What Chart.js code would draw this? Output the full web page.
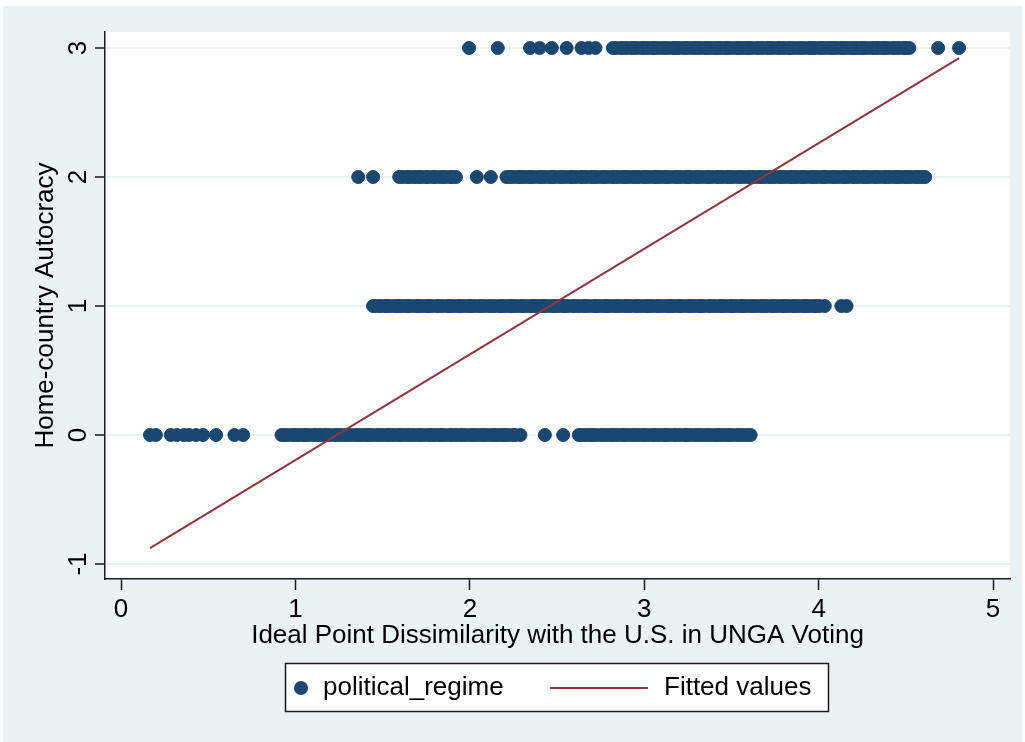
<!DOCTYPE html>
<html>
<head>
<meta charset="utf-8">
<script src="https://cdn.jsdelivr.net/npm/chart.js@4.4.1/dist/chart.umd.min.js"></script>
<style>
  html, body { margin: 0; padding: 0; background: #ffffff; }
  #wrap { position: relative; width: 1025px; height: 742px; }
</style>
</head>
<body>
<div id="wrap"><canvas id="c" width="1025" height="742"></canvas></div>
<script>
// Autocracy levels on the y axis
const regimeLevels = [0, 1, 2, 3];

// Ideal point dissimilarity values observed at each autocracy level
const regime0X = [0.166, 0.20, 0.285, 0.32, 0.36, 0.39, 0.43, 0.47, 0.545, 0.65, 0.70,
  0.92, 0.94, 0.96, 0.985, 1.0, 1.02, 1.045, 1.06, 1.08, 1.105, 1.12, 1.14, 1.165, 1.18, 1.20,
  1.225, 1.24, 1.26, 1.285, 1.30, 1.32, 1.345, 1.36, 1.38, 1.405, 1.42, 1.44, 1.465, 1.48, 1.50,
  1.525, 1.54, 1.56, 1.585, 1.60, 1.62, 1.645, 1.66, 1.68, 1.705, 1.72, 1.74, 1.765, 1.78, 1.80,
  1.825, 1.84, 1.86, 1.885, 1.90, 1.92, 1.945, 1.96, 1.98, 2.005, 2.02, 2.04, 2.065, 2.08, 2.10,
  2.125, 2.14, 2.16, 2.185, 2.20, 2.22, 2.245, 2.26, 2.29,
  2.43, 2.535,
  2.625, 2.645, 2.665, 2.69, 2.705, 2.725, 2.75, 2.765, 2.785, 2.81, 2.825, 2.845, 2.87, 2.885,
  2.905, 2.93, 2.945, 2.965, 2.99, 3.005, 3.025, 3.05, 3.065, 3.085, 3.11, 3.125, 3.145, 3.17,
  3.185, 3.205, 3.23, 3.245, 3.265, 3.29, 3.305, 3.325, 3.35, 3.365, 3.385, 3.41, 3.425, 3.445,
  3.47, 3.485, 3.505, 3.53, 3.545, 3.565, 3.59, 3.61];
const regime1X = [1.445, 1.465, 1.485, 1.51, 1.525, 1.545, 1.57, 1.585, 1.605, 1.63, 1.645,
  1.665, 1.69, 1.705, 1.725, 1.75, 1.765, 1.785, 1.81, 1.825, 1.845, 1.87, 1.885, 1.905, 1.93,
  1.945, 1.965, 1.99, 2.005, 2.025, 2.05, 2.065, 2.085, 2.11, 2.125, 2.145, 2.17, 2.185, 2.205,
  2.23, 2.245, 2.265, 2.29, 2.305, 2.325, 2.35, 2.365, 2.385, 2.41, 2.425, 2.445, 2.47, 2.485,
  2.505, 2.53, 2.545, 2.565, 2.59, 2.605, 2.625, 2.65, 2.665, 2.685, 2.71, 2.725, 2.745, 2.77,
  2.785, 2.805, 2.83, 2.845, 2.865, 2.89, 2.905, 2.925, 2.95, 2.965, 2.985, 3.01, 3.025, 3.045,
  3.07, 3.085, 3.105, 3.13, 3.145, 3.165, 3.19, 3.205, 3.225, 3.25, 3.265, 3.285, 3.31, 3.325,
  3.345, 3.37, 3.385, 3.405, 3.43, 3.445, 3.465, 3.49, 3.505, 3.525, 3.55, 3.565, 3.585, 3.61,
  3.625, 3.645, 3.67, 3.685, 3.705, 3.73, 3.745, 3.765, 3.79, 3.805, 3.825, 3.85, 3.865, 3.885,
  3.91, 3.925, 3.945, 3.97, 3.985, 4.005, 4.035, 4.13, 4.16];
const regime2X = [1.36, 1.445,
  1.595, 1.615, 1.64, 1.655, 1.68, 1.70, 1.72, 1.745, 1.76, 1.785, 1.80, 1.825, 1.845, 1.86,
  1.885, 1.90, 1.92, 2.04, 2.12,
  2.21, 2.23, 2.25, 2.275, 2.29, 2.31, 2.335, 2.35, 2.37, 2.395, 2.41, 2.43, 2.455, 2.47, 2.49,
  2.515, 2.53, 2.55, 2.575, 2.59, 2.61, 2.635, 2.65, 2.67, 2.695, 2.71, 2.73, 2.755, 2.77, 2.79,
  2.815, 2.83, 2.85, 2.875, 2.89, 2.91, 2.935, 2.95, 2.97, 2.995, 3.01, 3.03, 3.055, 3.07, 3.09,
  3.115, 3.13, 3.15, 3.175, 3.19, 3.21, 3.235, 3.25, 3.27, 3.295, 3.31, 3.33, 3.355, 3.37, 3.39,
  3.415, 3.43, 3.45, 3.475, 3.49, 3.51, 3.535, 3.55, 3.57, 3.595, 3.61, 3.63, 3.655, 3.67, 3.69,
  3.715, 3.73, 3.75, 3.775, 3.79, 3.81, 3.835, 3.85, 3.87, 3.895, 3.91, 3.93, 3.955, 3.97, 3.99,
  4.015, 4.03, 4.05, 4.075, 4.09, 4.11, 4.135, 4.15, 4.17, 4.195, 4.21, 4.23, 4.255, 4.27, 4.29,
  4.315, 4.33, 4.35, 4.375, 4.39, 4.41, 4.435, 4.45, 4.47, 4.495, 4.51, 4.53, 4.555, 4.57, 4.59,
  4.61];
const regime3X = [1.995, 2.16, 2.345, 2.40, 2.47, 2.555, 2.64, 2.68, 2.72,
  2.82, 2.84, 2.865, 2.88, 2.90, 2.925, 2.94, 2.96, 2.985, 3.0, 3.02, 3.045, 3.06, 3.08, 3.105,
  3.12, 3.14, 3.165, 3.18, 3.20, 3.225, 3.24, 3.26, 3.285, 3.30, 3.32, 3.345, 3.36, 3.38, 3.405,
  3.42, 3.44, 3.465, 3.48, 3.50, 3.525, 3.54, 3.56, 3.585, 3.60, 3.62, 3.645, 3.66, 3.68, 3.705,
  3.72, 3.74, 3.765, 3.78, 3.80, 3.825, 3.84, 3.86, 3.885, 3.90, 3.92, 3.945, 3.96, 3.98, 4.005,
  4.02, 4.04, 4.065, 4.08, 4.10, 4.125, 4.14, 4.16, 4.185, 4.20, 4.22, 4.245, 4.26, 4.28, 4.305,
  4.32, 4.34, 4.365, 4.38, 4.40, 4.425, 4.44, 4.46, 4.485, 4.50, 4.52, 4.685, 4.805];

// Fitted regression line end points
const fitX = [0.166, 4.805];
const fitY = [-0.876, 2.922];

// Axis ticks and labels
const xTicks = [0, 1, 2, 3, 4, 5];
const yTicks = [-1, 0, 1, 2, 3];
const seriesNames = ['political_regime', 'Fitted values'];
const xTitle = 'Ideal Point Dissimilarity with the U.S. in UNGA Voting';
const yTitle = 'Home-country Autocracy';

const FONT = '"Liberation Sans", Arial, Helvetica, sans-serif';
const NAVY = '#1A476F';
const MAROON = '#90353B';
const REGION_BG = '#EAF2F3';

const regimeRows = [regime0X, regime1X, regime2X, regime3X];
const scatterPoints = [];
regimeRows.forEach((row, i) => row.forEach(x => scatterPoints.push({ x: x, y: regimeLevels[i] })));
const fitPoints = fitX.map((x, i) => ({ x: x, y: fitY[i] }));

// Graph region background and white plot region
const backgroundPlugin = {
  id: 'regionBackground',
  beforeDraw(chart) {
    const { ctx, chartArea: a } = chart;
    ctx.save();
    ctx.fillStyle = '#ffffff';
    ctx.fillRect(0, 0, chart.width, chart.height);
    ctx.fillStyle = REGION_BG;
    ctx.fillRect(3, 6, 1019, 736);
    ctx.fillStyle = '#ffffff';
    ctx.fillRect(a.left, a.top, a.right - a.left, a.bottom - a.top);
    ctx.restore();
  }
};

// Boxed legend below the axis title
const legendBoxPlugin = {
  id: 'legendBox',
  afterDraw(chart) {
    const { ctx } = chart;
    const ds = chart.data.datasets;
    const cy = 688;
    ctx.save();
    ctx.fillStyle = '#ffffff';
    ctx.fillRect(285.5, 663.5, 543, 48);
    ctx.strokeStyle = '#1a1a1a';
    ctx.lineWidth = 1.5;
    ctx.strokeRect(285.5, 663.5, 543, 48);

    ctx.fillStyle = NAVY;
    ctx.beginPath();
    ctx.arc(301, cy, 7, 0, Math.PI * 2);
    ctx.fill();

    ctx.strokeStyle = MAROON;
    ctx.lineWidth = 2;
    ctx.beginPath();
    ctx.moveTo(550, cy);
    ctx.lineTo(648, cy);
    ctx.stroke();

    ctx.fillStyle = '#000000';
    ctx.font = '26px ' + FONT;
    ctx.textBaseline = 'middle';
    ctx.textAlign = 'left';
    ctx.fillText(ds[0].label, 323, cy);
    ctx.fillText(ds[1].label, 664, cy);
    ctx.restore();
  }
};

new Chart(document.getElementById('c'), {
  type: 'scatter',
  data: {
    datasets: [
      {
        label: seriesNames[0],
        data: scatterPoints,
        backgroundColor: NAVY,
        borderColor: NAVY,
        borderWidth: 1,
        pointRadius: 6.5,
        order: 1
      },
      {
        label: seriesNames[1],
        data: fitPoints,
        showLine: true,
        borderColor: MAROON,
        borderWidth: 2,
        pointRadius: 0,
        fill: false,
        order: 0
      }
    ]
  },
  options: {
    responsive: false,
    animation: false,
    devicePixelRatio: 1,
    events: [],
    layout: { padding: { left: 3, right: 15, top: 32, bottom: 83 } },
    plugins: {
      legend: { display: false },
      tooltip: { enabled: false },
      title: { display: false }
    },
    scales: {
      x: {
        type: 'linear',
        position: 'bottom',
        min: -0.092,
        max: 5.097,
        afterBuildTicks: s => { s.ticks = xTicks.map(v => ({ value: v })); },
        afterFit: s => { s.height = 80; },
        ticks: {
          color: '#000000',
          font: { family: FONT, size: 26 },
          padding: 4,
          maxRotation: 0,
          autoSkip: false
        },
        grid: {
          drawOnChartArea: false,
          drawTicks: true,
          tickLength: 11,
          tickColor: '#1a1a1a',
          tickWidth: 1.5
        },
        border: { display: true, color: '#1a1a1a', width: 1.5 },
        title: {
          display: true,
          text: xTitle,
          color: '#000000',
          font: { family: FONT, size: 26 },
          padding: { top: 0, bottom: 8 }
        }
      },
      y: {
        type: 'linear',
        position: 'left',
        min: -1.116,
        max: 3.124,
        afterBuildTicks: s => { s.ticks = yTicks.map(v => ({ value: v })); },
        afterFit: s => { s.width = 102; },
        ticks: {
          color: '#000000',
          font: { family: FONT, size: 26 },
          minRotation: 90,
          maxRotation: 90,
          crossAlign: 'center',
          padding: 5,
          autoSkip: false
        },
        grid: {
          color: REGION_BG,
          lineWidth: 2,
          drawTicks: true,
          tickLength: 10,
          tickColor: '#1a1a1a',
          tickWidth: 1.5
        },
        border: { display: true, color: '#1a1a1a', width: 1.5 },
        title: {
          display: true,
          text: yTitle,
          color: '#000000',
          font: { family: FONT, size: 26 },
          padding: { top: 27, bottom: 0 }
        }
      }
    }
  },
  plugins: [backgroundPlugin, legendBoxPlugin]
});
</script>
</body>
</html>
